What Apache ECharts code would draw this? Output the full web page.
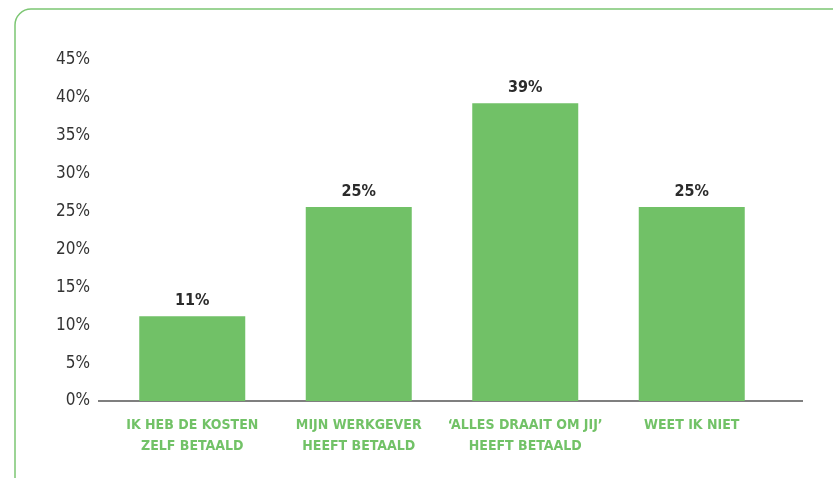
<!DOCTYPE html>
<html>
  <head>
    <meta charset="utf-8" />
    <title>Kosten betaald</title>
    <script src="https://cdnjs.cloudflare.com/ajax/libs/echarts/6.0.0/echarts.min.js"></script>
  </head>
  <body>
    <style>
      html,
      body {
        margin: 0;
        padding: 0;
        background: #fff;
      }
      #main {
        width: 833px;
        height: 478px;
      }
    </style>
    <div id="main"></div>
    <script type="text/javascript">
      var FONT = '"Liberation Sans Narrow", "DejaVu Sans Condensed", sans-serif';

      var categories = [
        'IK HEB DE KOSTEN\nZELF BETAALD',
        'MIJN WERKGEVER\nHEEFT BETAALD',
        '\u2018ALLES DRAAIT OM JIJ\u2019\nHEEFT BETAALD',
        'WEET IK NIET'
      ];
      var values = [11.2, 25.6, 39.3, 25.6];
      var shownLabels = ['11%', '25%', '39%', '25%'];
      var yTicks = [0, 5, 10, 15, 20, 25, 30, 35, 40, 45];

      var myChart = echarts.init(document.getElementById('main'));
      var option = {
        animation: false,
        graphic: [
          {
            type: 'rect',
            shape: { x: 15, y: 9, width: 860, height: 490, r: 16 },
            style: { fill: 'none', stroke: '#7cc673', lineWidth: 1.5 }
          },
          {
            type: 'line',
            shape: { x1: 98, y1: 401, x2: 803, y2: 401 },
            style: { stroke: '#555', lineWidth: 1.5 }
          }
        ],
        grid: { left: 109, right: 58, top: 60, bottom: 77 },
        xAxis: {
          type: 'category',
          data: categories,
          axisLine: { show: false },
          axisTick: { show: false },
          axisLabel: {
            interval: 0,
            margin: 14,
            color: '#72c267',
            fontFamily: FONT,
            fontWeight: 'bold',
            fontSize: 14,
            lineHeight: 21
          }
        },
        yAxis: {
          type: 'value',
          min: yTicks[0],
          max: yTicks[yTicks.length - 1],
          interval: 5,
          splitLine: { show: false },
          axisLine: { show: false },
          axisTick: { show: false },
          axisLabel: {
            margin: 19,
            color: '#333',
            fontFamily: FONT,
            fontSize: 17,
            formatter: '{value}%'
          }
        },
        series: [
          {
            type: 'bar',
            data: values,
            barWidth: 106,
            itemStyle: { color: '#71c167' },
            label: {
              show: true,
              position: 'top',
              distance: 7,
              color: '#2b2b2b',
              fontFamily: FONT,
              fontWeight: 'bold',
              fontSize: 16,
              formatter: function (p) {
                return shownLabels[p.dataIndex];
              }
            }
          }
        ]
      };
      myChart.setOption(option);
    </script>
  </body>
</html>
